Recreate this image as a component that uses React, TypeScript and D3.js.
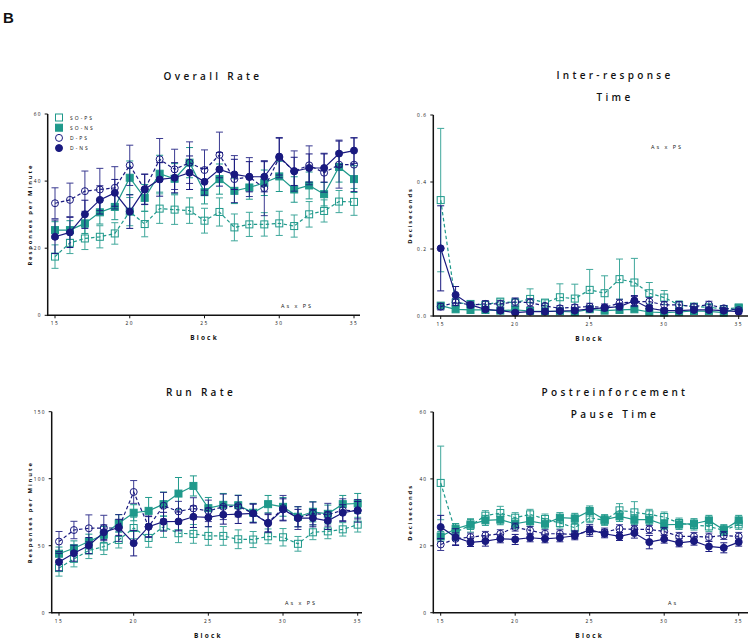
import React from "react";
import * as d3 from "d3";

const blocks = d3.range(15, 36);
const seriesNames = ["SO-PS", "SO-NS", "D-PS", "D-NS"];

// Overall Rate
const overallSoPs = [17.5,21.6,22.9,23.4,24.4,30.9,27.2,31.8,31.5,31.2,28.2,30.8,26.2,27.1,27.1,27.4,26.6,30.1,31.1,33.9,33.8];
const overallSoNs = [25.4,25.4,27.4,30.7,32.3,41.0,35.0,42.2,40.7,45.5,36.7,40.6,37.1,38.1,39.5,41.4,37.5,38.7,36.1,44.2,40.6];
const overallDPs = [33.4,34.4,37.0,37.5,38.0,44.7,37.5,46.5,43.5,45.5,43.3,47.8,40.6,41.2,37.9,47.0,43.0,44.7,42.5,44.9,44.9];
const overallDNs = [23.4,24.7,30.1,34.4,36.5,30.9,37.6,40.5,41.0,42.5,39.8,43.5,42.0,41.3,41.3,47.3,42.9,43.9,43.9,48.2,49.1];
const overallSoPsErr = [3.5,3.2,3.3,3.3,3.2,4.2,3.8,4.4,4.4,3.8,3.7,4.2,4.0,3.6,3.5,3.6,3.3,3.8,3.3,3.3,4.0];
const overallSoNsErr = [2.5,2.8,3.0,3.5,3.8,5.0,4.0,5.5,4.5,4.5,3.5,4.5,3.8,3.5,3.8,4.5,3.8,4.0,3.5,4.5,4.0];
const overallDPsErr = [4.6,5.0,6.0,6.3,6.3,6.0,4.5,6.2,6.0,6.2,6.0,6.8,7.0,5.8,8.2,6.0,6.0,5.8,5.8,7.0,8.0];
const overallDNsErr = [5.0,4.5,4.2,4.2,4.0,5.0,4.5,5.0,4.5,5.0,4.0,5.0,4.5,4.5,4.5,5.5,4.2,4.2,4.2,4.0,3.8];

// Inter-response Time
const irtSoPs = [0.346,0.040,0.036,0.033,0.043,0.040,0.051,0.040,0.056,0.052,0.078,0.068,0.110,0.100,0.068,0.055,0.033,0.028,0.026,0.021,0.025];
const irtSoNs = [0.031,0.020,0.018,0.018,0.016,0.018,0.015,0.014,0.014,0.012,0.020,0.016,0.018,0.020,0.012,0.010,0.012,0.015,0.014,0.010,0.025];
const irtDPs = [0.028,0.041,0.033,0.036,0.036,0.042,0.040,0.030,0.023,0.026,0.028,0.026,0.038,0.043,0.043,0.033,0.033,0.028,0.034,0.023,0.018];
const irtDNs = [0.202,0.063,0.033,0.020,0.016,0.010,0.013,0.013,0.015,0.016,0.021,0.024,0.028,0.046,0.023,0.016,0.016,0.018,0.018,0.016,0.013];
const irtSoPsErr = [0.214,0.012,0.008,0.010,0.008,0.012,0.030,0.008,0.040,0.043,0.061,0.052,0.060,0.072,0.032,0.021,0.012,0.008,0.008,0.006,0.006];
const irtSoNsErr = [0.008,0.006,0.005,0.005,0.005,0.005,0.005,0.005,0.005,0.004,0.006,0.005,0.005,0.005,0.004,0.004,0.004,0.005,0.005,0.004,0.006];
const irtDPsErr = [0.010,0.010,0.008,0.010,0.010,0.012,0.012,0.008,0.008,0.008,0.010,0.010,0.012,0.015,0.012,0.010,0.010,0.008,0.010,0.008,0.006];
const irtDNsErr = [0.127,0.025,0.008,0.006,0.006,0.005,0.005,0.005,0.005,0.005,0.008,0.008,0.010,0.015,0.008,0.006,0.006,0.006,0.006,0.006,0.006];

// Run Rate
const runSoPs = [33.3,40.2,46.4,49.4,54.3,63.2,55.8,64.2,59.3,58.8,57.3,57.3,54.8,54.6,57.0,56.3,51.4,60.0,60.7,62.2,65.7];
const runSoNs = [44.0,48.1,53.1,58.3,66.7,74.6,76.0,81.0,88.9,94.6,78.0,80.5,80.2,74.6,81.0,79.0,71.6,75.3,73.8,81.0,81.5];
const runDPs = [53.1,61.7,63.0,63.2,63.2,90.1,64.2,79.8,75.6,77.8,76.0,79.0,79.5,74.1,67.2,78.0,70.6,74.1,73.1,76.5,76.0];
const runDNs = [37.8,44.4,50.1,60.0,63.7,51.9,64.2,67.9,68.1,71.6,71.1,73.1,73.6,74.1,66.7,77.0,70.6,70.6,68.6,74.6,76.5];
const runSoPsErr = [6,6,6,6,6,8,7,8,7,7,7,7,7,6,5.5,6.5,5.5,5.5,5.5,5,5.5];
const runSoNsErr = [5,5.5,5.5,6,6.5,6,10,9,12,7.5,8,8.5,7.5,7,6.5,7,7.5,7.5,6.5,6.5,7.5];
const runDPsErr = [7.5,6.5,10,9.5,10,8.5,8,10,7.5,8,8,9.5,8,7,7,9.5,8.5,8.5,8.5,8.5,8.5];
const runDNsErr = [6.5,6,6,5.5,6,9.5,7.5,7,7,8,7,7,7,7,6.5,8,6.5,6.5,6.5,6,6.5];

// Postreinforcement Pause Time
const prpSoPs = [38.8,24.1,26.1,29.0,29.8,28.4,29.4,28.0,26.8,25.4,28.4,27.6,30.6,30.0,29.4,28.6,26.8,26.2,25.8,24.6,26.4];
const prpSoNs = [22.8,25.1,26.4,27.6,27.8,26.6,27.4,26.6,28.4,28.2,30.4,27.8,28.8,27.8,27.8,26.3,26.4,26.6,27.6,24.8,27.6];
const prpDPs = [20.4,22.1,22.6,23.1,23.6,25.6,24.6,23.6,23.6,23.4,24.3,24.1,25.1,24.9,24.9,24.3,22.8,22.8,22.6,23.1,22.8];
const prpDNs = [25.6,22.6,21.0,21.4,22.1,21.9,22.4,22.1,22.4,23.0,24.8,23.6,22.8,23.8,21.1,22.0,20.9,21.4,19.8,19.4,21.1];
const prpSoPsErr = [11,2.5,2,1.5,2,1.5,1.5,1.5,1.5,1.5,1.5,1.5,2,3.2,1.5,1.5,1.5,1.5,1.5,1.5,1.5];
const prpSoNsErr = [1.5,1.5,1.5,1.5,1.5,1.5,1.5,1.5,1.5,1.5,1.5,1.5,1.5,1.5,1.5,1.5,1.5,1.5,1.5,1.5,1.5];
const prpDPsErr = [1.8,1.8,1.2,1.2,1.2,1.2,1.2,1.2,1.2,1.2,1.5,1.2,1.2,1.2,1.2,1.2,1.2,1.2,1.2,1.2,1.2];
const prpDNsErr = [3.5,2.5,1.2,1.5,1.2,1.5,1.2,1.2,1.2,1.2,1.5,1.2,1.2,1.5,2,1.2,1.2,1.2,1.5,1.5,1.2];

const xTicks = [15, 20, 25, 30, 35];
const overallTicks = [0, 20, 40, 60];
const irtTicks = [0, 0.2, 0.4, 0.6];
const runTicks = [0, 50, 100, 150];
const prpTicks = [0, 20, 40, 60];

const TEAL = "#1f998b";
const NAVY = "#19197f";
const FONT = "'Open Sans', 'DejaVu Sans', sans-serif";

type Series = { name: string; values: number[]; err: number[]; color: string; dashed: boolean; marker: "sq" | "circ"; filled: boolean };

function mkSeries(a: number[], ae: number[], b: number[], be: number[], c: number[], ce: number[], d: number[], de: number[]): Series[] {
  return [
    { name: seriesNames[0], values: a, err: ae, color: TEAL, dashed: true, marker: "sq", filled: false },
    { name: seriesNames[1], values: b, err: be, color: TEAL, dashed: false, marker: "sq", filled: true },
    { name: seriesNames[2], values: c, err: ce, color: NAVY, dashed: true, marker: "circ", filled: false },
    { name: seriesNames[3], values: d, err: de, color: NAVY, dashed: false, marker: "circ", filled: true },
  ];
}

function Marker({ s, x, y, size }: { s: Series; x: number; y: number; size: number }) {
  if (s.marker === "sq") {
    return <rect x={x - size / 2} y={y - size / 2} width={size} height={size} fill={s.filled ? s.color : "none"} stroke={s.color} strokeWidth={1} />;
  }
  return <circle cx={x} cy={y} r={size / 2} fill={s.filled ? s.color : "none"} stroke={s.color} strokeWidth={1} />;
}

type PanelProps = {
  axisX: number;
  xr: [number, number];
  xEnd: number;
  yDomain: [number, number];
  yr: [number, number];
  yTicks: number[];
  tickFmt: (v: number) => string;
  series: Series[];
  title: string[];
  titleX: number;
  titleY: number;
  yLabel: string;
  yLabelX: number;
  annot: string;
  annotX: number;
  annotY: number;
  legend?: boolean;
};

function Panel(p: PanelProps) {
  const x = d3.scaleLinear().domain([15, 35]).range(p.xr);
  const y = d3.scaleLinear().domain(p.yDomain).range(p.yr);
  const y0 = p.yr[0];
  const line = d3.line<number>().x((_, i) => x(blocks[i])).y((v) => y(v));
  const capW = 3.5;
  const tickLabelY = y0 + 10;
  return (
    <g>
      {p.title.map((t, i) => (
        <text key={i} x={p.titleX} y={p.titleY + i * 22} textAnchor="middle" fontFamily={FONT} fontSize={10} fontWeight={600} letterSpacing={3.3} fill="#111">{t}</text>
      ))}
      {p.series.map((s, si) => (
        <g key={si}>
          {s.values.map((v, i) => {
            const cx = x(blocks[i]);
            const top = y(v + s.err[i]);
            const bot = y(Math.max(p.yDomain[0], v - s.err[i]));
            return (
              <g key={i} stroke={s.color} strokeWidth={1} opacity={s.filled ? 1 : 0.85}>
                <line x1={cx} x2={cx} y1={top} y2={bot} />
                <line x1={cx - capW} x2={cx + capW} y1={top} y2={top} />
                <line x1={cx - capW} x2={cx + capW} y1={bot} y2={bot} />
              </g>
            );
          })}
          <path d={line(s.values) || ""} fill="none" stroke={s.color} strokeWidth={1.2} strokeDasharray={s.dashed ? "3.5,2.5" : undefined} />
          {s.values.map((v, i) => (
            <Marker key={i} s={s} x={x(blocks[i])} y={y(v)} size={7} />
          ))}
        </g>
      ))}
      <line x1={p.axisX} x2={p.axisX} y1={y(p.yDomain[1])} y2={y0 + 0.75} stroke="#111" strokeWidth={1.5} />
      <line x1={p.axisX} x2={p.xEnd} y1={y0} y2={y0} stroke="#111" strokeWidth={1.5} />
      {p.yTicks.map((t, i) => (
        <g key={i}>
          <line x1={p.axisX - 3} x2={p.axisX} y1={y(t)} y2={y(t)} stroke="#111" strokeWidth={1} />
          <text x={p.axisX - 6} y={y(t) + 1.8} textAnchor="end" fontFamily={FONT} fontSize={4.8} letterSpacing={1.2} fill="#111">{p.tickFmt(t)}</text>
        </g>
      ))}
      {xTicks.map((t, i) => (
        <g key={i}>
          <line x1={x(t)} x2={x(t)} y1={y0} y2={y0 + 3} stroke="#111" strokeWidth={1} />
          <text x={x(t)} y={tickLabelY} textAnchor="middle" fontFamily={FONT} fontSize={4.8} letterSpacing={1.5} fill="#111">{String(t)}</text>
        </g>
      ))}
      <text x={(p.xr[0] + p.xr[1]) / 2} y={y0 + 25} textAnchor="middle" fontFamily={FONT} fontSize={6.5} fontWeight="bold" letterSpacing={2.2} fill="#111">Block</text>
      <text transform={`translate(${p.yLabelX},${(y0 + y(p.yDomain[1])) / 2}) rotate(-90)`} textAnchor="middle" fontFamily={FONT} fontSize={5.8} fontWeight="bold" letterSpacing={1.9} fill="#111">{p.yLabel}</text>
      <text x={p.annotX} y={p.annotY} textAnchor="middle" fontFamily={FONT} fontSize={5.5} letterSpacing={2} fill="#111">{p.annot}</text>
      {p.legend && p.series.map((s, i) => (
        <g key={i}>
          <Marker s={s} x={59} y={117.5 + i * 10.2} size={7} />
          <text x={70} y={119.5 + i * 10.2} fontFamily={FONT} fontSize={5} letterSpacing={2} fill="#111">{s.name}</text>
        </g>
      ))}
    </g>
  );
}

export default function App() {
  const intFmt = (v: number) => String(v);
  const decFmt = (v: number) => v.toFixed(1);
  return (
    <svg width={750} height={642} style={{ position: "absolute", left: 0, top: 0, background: "white" }}>
      <rect width={750} height={642} fill="white" />
      <text x={3} y={23} fontFamily="'Liberation Sans', Arial, sans-serif" fontSize={15} fontWeight="bold" fill="#111">B</text>
      <Panel axisX={47.7} xr={[55, 354]} xEnd={360} yDomain={[0, 60]} yr={[315.3, 114]} yTicks={overallTicks} tickFmt={intFmt}
        series={mkSeries(overallSoPs, overallSoPsErr, overallSoNs, overallSoNsErr, overallDPs, overallDPsErr, overallDNs, overallDNsErr)}
        title={["Overall Rate"]} titleX={213} titleY={80} yLabel="Responses per Minute" yLabelX={32} annot="As x PS" annotX={297} annotY={308} legend />
      <Panel axisX={433.3} xr={[440.7, 738.7]} xEnd={748} yDomain={[0, 0.6]} yr={[316, 115]} yTicks={irtTicks} tickFmt={decFmt}
        series={mkSeries(irtSoPs, irtSoPsErr, irtSoNs, irtSoNsErr, irtDPs, irtDPsErr, irtDNs, irtDNsErr)}
        title={["Inter-response", "Time"]} titleX={615} titleY={79} yLabel="Deciseconds" yLabelX={412} annot="As x PS" annotX={667} annotY={149} />
      <Panel axisX={51.7} xr={[59, 357.7]} xEnd={362} yDomain={[0, 150]} yr={[612.7, 411.7]} yTicks={runTicks} tickFmt={intFmt}
        series={mkSeries(runSoPs, runSoPsErr, runSoNs, runSoNsErr, runDPs, runDPsErr, runDNs, runDNsErr)}
        title={["Run Rate"]} titleX={201} titleY={396} yLabel="Responses per Minute" yLabelX={32} annot="As x PS" annotX={301} annotY={605} />
      <Panel axisX={433.3} xr={[440.7, 738.7]} xEnd={748} yDomain={[0, 60]} yr={[612.7, 412]} yTicks={prpTicks} tickFmt={intFmt}
        series={mkSeries(prpSoPs, prpSoPsErr, prpSoNs, prpSoNsErr, prpDPs, prpDPsErr, prpDNs, prpDNsErr)}
        title={["Postreinforcement", "Pause Time"]} titleX={615} titleY={396} yLabel="Deciseconds" yLabelX={412} annot="As" annotX={673} annotY={605} />
    </svg>
  );
}
